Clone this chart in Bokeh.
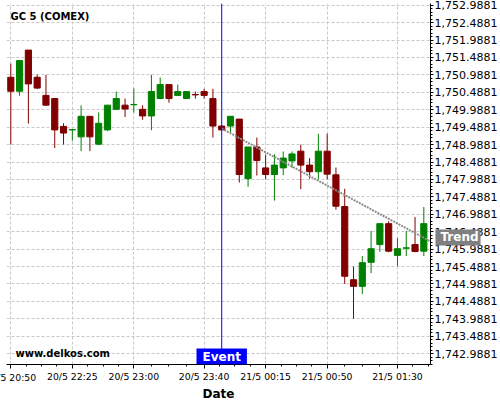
from bokeh.plotting import figure
from bokeh.models import (FixedTicker, NumeralTickFormatter, Span, Label,
                          ColumnDataSource, Range1d)
from bokeh.embed import file_html
from bokeh.resources import INLINE

# ---- data ----
opens = [1750.92, 1750.52, 1751.70, 1750.92, 1750.40, 1750.31, 1749.51, 1749.41,
         1749.21, 1749.80, 1749.00, 1749.41, 1750.00, 1750.12, 1750.13, 1750.00,
         1749.81, 1750.31, 1750.71, 1750.40, 1750.31, 1750.425, 1750.51, 1750.31,
         1749.52, 1749.52, 1749.72, 1748.01, 1748.92, 1748.32, 1748.13, 1748.32,
         1748.52, 1748.80, 1748.40, 1748.21, 1748.80, 1748.12, 1747.21, 1745.11,
         1744.92, 1745.61, 1746.12, 1746.72, 1745.81, 1746.015, 1746.12, 1745.93]
highs = [1751.31, 1751.40, 1751.70, 1751.00, 1750.99, 1750.31, 1749.60, 1749.43,
         1750.11, 1749.80, 1749.91, 1750.12, 1750.51, 1750.31, 1750.60, 1750.12,
         1750.99, 1750.91, 1750.72, 1750.71, 1750.52, 1750.51, 1750.59, 1750.59,
         1749.54, 1749.81, 1749.72, 1748.92, 1749.19, 1748.70, 1748.71, 1748.79,
         1748.79, 1748.99, 1748.60, 1749.30, 1749.30, 1748.33, 1747.72, 1745.49,
         1745.79, 1746.51, 1746.72, 1746.79, 1746.31, 1746.51, 1746.91, 1747.20]
lows = [1748.99, 1750.39, 1749.59, 1750.58, 1750.10, 1748.89, 1748.99, 1749.10,
        1748.80, 1748.80, 1748.97, 1749.38, 1749.98, 1749.78, 1749.91, 1749.70,
        1749.40, 1750.29, 1750.19, 1750.38, 1750.30, 1750.31, 1750.31, 1749.19,
        1749.40, 1749.33, 1747.90, 1747.78, 1748.10, 1747.99, 1747.38, 1748.11,
        1748.32, 1747.71, 1748.01, 1747.99, 1747.99, 1747.12, 1744.99, 1743.99,
        1744.70, 1745.30, 1745.91, 1745.90, 1745.50, 1745.79, 1745.90, 1745.79]
closes = [1750.52, 1751.40, 1750.73, 1750.61, 1750.12, 1749.41, 1749.32, 1749.42,
          1749.80, 1749.21, 1749.60, 1750.12, 1750.31, 1750.01, 1750.14, 1749.81,
          1750.51, 1750.71, 1750.31, 1750.51, 1750.51, 1750.415, 1750.40, 1749.52,
          1749.41, 1749.80, 1748.13, 1748.92, 1748.53, 1748.13, 1748.40, 1748.60,
          1748.72, 1748.40, 1748.21, 1748.80, 1748.14, 1747.22, 1745.21, 1744.92,
          1745.60, 1746.00, 1746.72, 1745.93, 1746.00, 1746.025, 1745.92, 1746.72]

tick_idx = [0, 7, 14, 22, 29, 36, 44]
tick_labels = ["20/5 20:50", "20/5 22:25", "20/5 23:00", "20/5 23:40",
               "21/5 00:15", "21/5 00:50", "21/5 01:30"]
y_tick_values = [1742.9881 + 0.5 * k for k in range(21)]

event_idx = 24
trend_x = [24, 47.76]
trend_y = [1749.45, 1746.21]

UP = "#008000"
DOWN = "#800000"

idx = list(range(len(opens)))
src = ColumnDataSource(dict(
    x=idx, h=highs, l=lows,
    top=[max(o, c) for o, c in zip(opens, closes)],
    bottom=[min(o, c) for o, c in zip(opens, closes)],
    color=[UP if c >= o else DOWN for o, c in zip(opens, closes)],
))

Y0, Y1 = 1742.678, 1753.037
p = figure(frame_width=424, frame_height=361,
           x_range=Range1d(-0.49, 47.76), y_range=Range1d(Y0, Y1),
           y_axis_location="right", toolbar_location=None, output_backend="svg",
           min_border_left=6, min_border_top=3, min_border_right=0, min_border_bottom=0,
           x_axis_label="Date")
p.outline_line_color = None
p.background_fill_color = "white"
p.border_fill_color = "white"

p.segment(x0="x", y0="h", x1="x", y1="l", line_color="color", line_width=1, source=src)
p.vbar(x="x", top="top", bottom="bottom", width=0.7, fill_color="color",
       line_color="color", line_width=1, source=src)
p.line(trend_x, trend_y, line_color="#8c8c8c", line_width=2, line_dash="2 1")

# x axis ticks
minor_x = []
for a, b in zip(tick_idx[:-1], tick_idx[1:]):
    minor_x += [a + (b - a) * k / 4 for k in range(1, 4)]
minor_x += [tick_idx[-1] + 1.75, tick_idx[-1] + 3.5]
p.xaxis.ticker = FixedTicker(ticks=tick_idx, minor_ticks=minor_x)
overrides = {i: lab for i, lab in zip(tick_idx, tick_labels)}
overrides[tick_idx[0]] = " "   # first label drawn separately (cut by the page edge)
p.xaxis.major_label_overrides = overrides

minor_y = [y_tick_values[0] - 0.5 + 0.1 * k for k in range(0, 110)]
p.yaxis.ticker = FixedTicker(ticks=y_tick_values, minor_ticks=minor_y)
p.yaxis.formatter = NumeralTickFormatter(format="0,0.0000")

for ax in (p.xaxis, p.yaxis):
    ax.axis_line_color = "black"
    ax.major_tick_line_color = "black"
    ax.minor_tick_line_color = "black"
    ax.major_tick_in = 0
    ax.minor_tick_in = 0
    ax.minor_tick_out = 2
    ax.major_label_text_font = "DejaVu Sans"
    ax.major_label_text_color = "black"
p.xaxis.major_tick_out = 4
p.xaxis.major_label_standoff = 2
p.yaxis.major_tick_out = 3
p.yaxis.major_label_standoff = 1
p.xaxis.major_label_text_font_size = "9.3px"
p.yaxis.major_label_text_font_size = "11px"
p.xaxis.axis_label_text_font = "DejaVu Sans"
p.xaxis.axis_label_text_font_style = "bold"
p.xaxis.axis_label_text_font_size = "12px"
p.xaxis.axis_label_text_color = "black"
p.xaxis.axis_label_standoff = 2

p.grid.grid_line_color = "#c8c8c8"
p.grid.grid_line_dash = "3 2"

p.add_layout(Span(location=event_idx, dimension="height", line_color="#0000FF", line_width=1))

p.add_layout(Label(x=4, y=348.5, x_units="screen", y_units="screen", text="GC 5 (COMEX)",
                   text_font="DejaVu Sans", text_font_style="bold", text_font_size="10px",
                   text_baseline="middle", text_color="black"))
p.add_layout(Label(x=9, y=11, x_units="screen", y_units="screen", text="www.delkos.com",
                   text_font="DejaVu Sans", text_font_style="bold", text_font_size="10px",
                   text_baseline="middle", text_color="black"))
p.add_layout(Label(x=event_idx, y=8, x_units="data", y_units="screen", text="Event",
                   text_font="DejaVu Sans", text_font_style="bold", text_font_size="12px",
                   text_align="center", text_baseline="middle", text_color="white",
                   background_fill_color="#0000FF",
                   padding=dict(left=6, right=6, top=1, bottom=1)))

# labels outside the frame live in side panels so they are not clipped to the frame
p.add_layout(Label(x=trend_x[-1], y=trend_y[-1], x_units="data", y_units="data", text="Trend",
                   x_offset=5, y_offset=4, level="overlay",
                   text_font="DejaVu Sans", text_font_style="bold", text_font_size="12px",
                   text_align="left", text_baseline="middle", text_color="white",
                   background_fill_color="#808080", background_fill_alpha=1.0,
                   padding=dict(left=5, right=2, top=1, bottom=1)), "right")
p.add_layout(Label(x=tick_idx[0], y=Y0, x_units="data", y_units="data", text=tick_labels[0],
                   y_offset=-7,
                   text_font="DejaVu Sans", text_font_size="9.3px", text_color="black",
                   text_align="center", text_baseline="top"), "below")

open("out.html", "w").write(file_html(p, INLINE))
